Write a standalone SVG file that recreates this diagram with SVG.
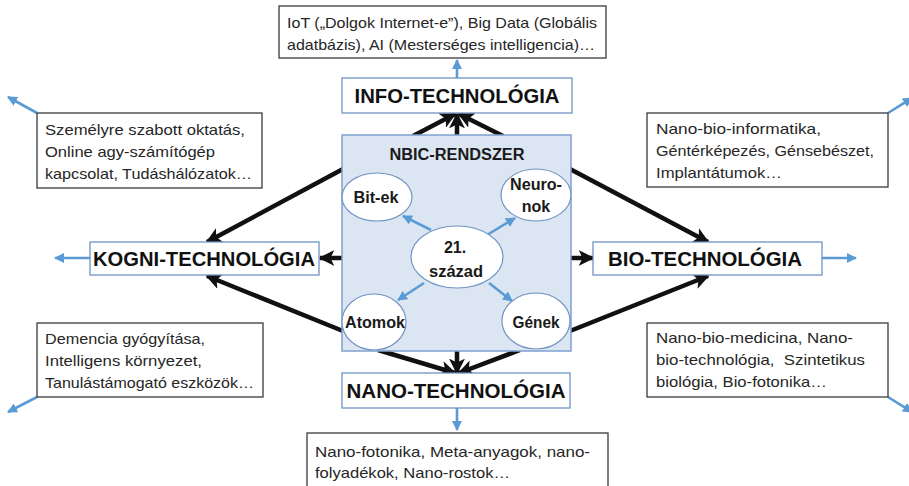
<svg xmlns="http://www.w3.org/2000/svg" width="909" height="486" viewBox="0 0 909 486">
  <style>
    .note { fill: #ffffff; stroke: #3a3a3a; stroke-width: 1.3; }
    .tech { fill: #ffffff; stroke: #6f93c4; stroke-width: 1.3; }
    .core { fill: #dce6f2; stroke: #7fa0cf; stroke-width: 1.5; }
    .cell { fill: #ffffff; stroke: #6f93c4; stroke-width: 1.2; }
    .txt { font-family: "Liberation Sans", Arial, sans-serif; font-size: 15px; fill: #262626; }
    .head { font-family: "Liberation Sans", Arial, sans-serif; font-size: 20px; font-weight: bold; fill: #111111; text-anchor: middle; }
    .lab { font-family: "Liberation Sans", Arial, sans-serif; font-size: 16px; font-weight: bold; fill: #1a1a1a; text-anchor: middle; }
    .blk { stroke: #111111; stroke-width: 4.5; fill: none; marker-end: url(#headBlack); }
    .blu { stroke: #5b9bd5; stroke-width: 2.6; fill: none; marker-end: url(#headBlue); }
  </style>
  <defs>
    <marker id="headBlack" viewBox="0 0 10 10" refX="9" refY="5" markerWidth="16" markerHeight="16" markerUnits="userSpaceOnUse" orient="auto">
      <path d="M0,0 L10,5 L0,10 L2.5,5 z" fill="#111111"/>
    </marker>
    <marker id="headBlue" viewBox="0 0 10 10" refX="9" refY="5" markerWidth="10" markerHeight="10" markerUnits="userSpaceOnUse" orient="auto">
      <path d="M0,0 L10,5 L0,10 z" fill="#5b9bd5"/>
    </marker>
  </defs>

  <rect width="909" height="486" fill="#ffffff"/>

  <!-- connectors -->
  <g id="connectors">
    <!-- core to the four technologies -->
    <line class="blk" x1="413" y1="136" x2="455" y2="114"/>
    <line class="blk" x1="457" y1="136" x2="457" y2="114"/>
    <line class="blk" x1="503" y1="136" x2="459" y2="114"/>
    <line class="blk" x1="343" y1="169" x2="207" y2="242"/>
    <line class="blk" x1="342" y1="258" x2="320" y2="258"/>
    <line class="blk" x1="343" y1="331" x2="207" y2="276"/>
    <line class="blk" x1="570" y1="169" x2="708" y2="242"/>
    <line class="blk" x1="571" y1="258" x2="593" y2="258"/>
    <line class="blk" x1="570" y1="331" x2="708" y2="276"/>
    <line class="blk" x1="378" y1="350" x2="455" y2="373"/>
    <line class="blk" x1="457" y1="350" x2="457" y2="373"/>
    <line class="blk" x1="520" y1="350" x2="459" y2="373"/>
    <!-- technologies to their applications -->
    <line class="blu" x1="457" y1="78" x2="457" y2="60"/>
    <line class="blu" x1="457" y1="408" x2="457" y2="430"/>
    <line class="blu" x1="90" y1="258" x2="55" y2="258"/>
    <line class="blu" x1="822" y1="258" x2="856" y2="258"/>
    <line class="blu" x1="37" y1="113" x2="8" y2="97"/>
    <line class="blu" x1="37" y1="397" x2="8" y2="412"/>
    <line class="blu" x1="888" y1="113" x2="912" y2="98"/>
    <line class="blu" x1="888" y1="397" x2="912" y2="412"/>
  </g>

  <!-- application notes -->
  <g id="note-info">
    <rect class="note" x="279" y="6" width="327" height="52"/>
    <text class="txt" x="287" y="28" textLength="310" lengthAdjust="spacingAndGlyphs">IoT („Dolgok Internet-e”), Big Data (Globális</text>
    <text class="txt" x="287" y="50" textLength="308" lengthAdjust="spacingAndGlyphs">adatbázis), AI (Mesterséges intelligencia)…</text>
  </g>
  <g id="note-kogni-top">
    <rect class="note" x="37" y="113" width="225" height="75"/>
    <text class="txt" x="45" y="135" textLength="200" lengthAdjust="spacingAndGlyphs">Személyre szabott oktatás,</text>
    <text class="txt" x="45" y="157" textLength="170" lengthAdjust="spacingAndGlyphs">Online agy-számítógép</text>
    <text class="txt" x="45" y="179" textLength="207" lengthAdjust="spacingAndGlyphs">kapcsolat, Tudáshálózatok…</text>
  </g>
  <g id="note-kogni-bottom">
    <rect class="note" x="37" y="323" width="226" height="74"/>
    <text class="txt" x="45" y="344" textLength="160" lengthAdjust="spacingAndGlyphs">Demencia gyógyítása,</text>
    <text class="txt" x="45" y="366" textLength="157" lengthAdjust="spacingAndGlyphs">Intelligens környezet,</text>
    <text class="txt" x="45" y="388" textLength="209" lengthAdjust="spacingAndGlyphs">Tanulástámogató eszközök…</text>
  </g>
  <g id="note-bio-top">
    <rect class="note" x="647" y="113" width="241" height="74"/>
    <text class="txt" x="656" y="134" textLength="165" lengthAdjust="spacingAndGlyphs">Nano-bio-informatika,</text>
    <text class="txt" x="656" y="156" textLength="218" lengthAdjust="spacingAndGlyphs">Géntérképezés, Génsebészet,</text>
    <text class="txt" x="656" y="178" textLength="126" lengthAdjust="spacingAndGlyphs">Implantátumok…</text>
  </g>
  <g id="note-bio-bottom">
    <rect class="note" x="647" y="323" width="241" height="74"/>
    <text class="txt" x="656" y="343" textLength="197" lengthAdjust="spacingAndGlyphs">Nano-bio-medicina, Nano-</text>
    <text class="txt" x="656" y="365" textLength="209" lengthAdjust="spacingAndGlyphs">bio-technológia, &#160;Szintetikus</text>
    <text class="txt" x="656" y="387" textLength="171" lengthAdjust="spacingAndGlyphs">biológia, Bio-fotonika…</text>
  </g>
  <g id="note-nano">
    <rect class="note" x="307" y="433" width="301" height="60"/>
    <text class="txt" x="315" y="457" textLength="275" lengthAdjust="spacingAndGlyphs">Nano-fotonika, Meta-anyagok, nano-</text>
    <text class="txt" x="315" y="478" textLength="195" lengthAdjust="spacingAndGlyphs">folyadékok, Nano-rostok…</text>
  </g>

  <!-- technology boxes -->
  <g id="info-tech">
    <rect class="tech" x="342" y="78" width="230" height="35"/>
    <text class="head" x="457" y="103" textLength="205" lengthAdjust="spacingAndGlyphs">INFO-TECHNOLÓGIA</text>
  </g>
  <g id="kogni-tech">
    <rect class="tech" x="90" y="242" width="229" height="33"/>
    <text class="head" x="204" y="266" textLength="222" lengthAdjust="spacingAndGlyphs">KOGNI-TECHNOLÓGIA</text>
  </g>
  <g id="bio-tech">
    <rect class="tech" x="593" y="242" width="229" height="33"/>
    <text class="head" x="705" y="266" textLength="194" lengthAdjust="spacingAndGlyphs">BIO-TECHNOLÓGIA</text>
  </g>
  <g id="nano-tech">
    <rect class="tech" x="342" y="373" width="228" height="35"/>
    <text class="head" x="456" y="398" textLength="219" lengthAdjust="spacingAndGlyphs">NANO-TECHNOLÓGIA</text>
  </g>

  <!-- NBIC core -->
  <g id="nbic">
    <rect class="core" x="342" y="135" width="229" height="216"/>
    <text class="lab" x="457" y="160" textLength="135" lengthAdjust="spacingAndGlyphs">NBIC-RENDSZER</text>
  </g>
  <g id="inner-connectors">
    <line class="blu" x1="431" y1="230" x2="403" y2="216"/>
    <line class="blu" x1="487" y1="235" x2="515" y2="218"/>
    <line class="blu" x1="424" y1="283" x2="398" y2="300"/>
    <line class="blu" x1="489" y1="283" x2="512" y2="301"/>
  </g>
  <g id="bit-ek">
    <ellipse class="cell" cx="377" cy="197" rx="35" ry="24"/>
    <text class="lab" x="376" y="203" textLength="45" lengthAdjust="spacingAndGlyphs">Bit-ek</text>
  </g>
  <g id="neuronok">
    <ellipse class="cell" cx="536" cy="195" rx="35" ry="26"/>
    <text class="lab" x="536" y="190" textLength="52" lengthAdjust="spacingAndGlyphs">Neuro-</text>
    <text class="lab" x="536" y="212">nok</text>
  </g>
  <g id="szazad">
    <ellipse class="cell" cx="457" cy="257" rx="46" ry="31"/>
    <text class="lab" x="455" y="253">21.</text>
    <text class="lab" x="456" y="277" textLength="54" lengthAdjust="spacingAndGlyphs">század</text>
  </g>
  <g id="atomok">
    <ellipse class="cell" cx="374" cy="322" rx="32" ry="28"/>
    <text class="lab" x="375" y="328" textLength="60" lengthAdjust="spacingAndGlyphs">Atomok</text>
  </g>
  <g id="genek">
    <ellipse class="cell" cx="536" cy="321" rx="34" ry="28"/>
    <text class="lab" x="536" y="328" textLength="47" lengthAdjust="spacingAndGlyphs">Gének</text>
  </g>
</svg>
